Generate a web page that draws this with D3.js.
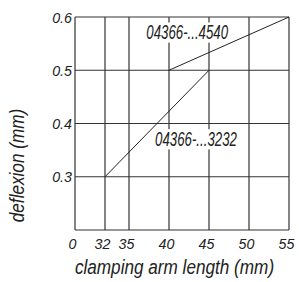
<!DOCTYPE html>
<html lang="en">
<head>
  <meta charset="UTF-8">
  <title>Deflexion</title>
  <script src="https://d3js.org/d3.v7.min.js"></script>
  <style>
    * { margin: 0; padding: 0; }
    body { background-color: #fff; }
    svg text {
      font-family: "Liberation Sans", Arial, sans-serif;
      font-style: italic;
      fill: #222;
    }
  </style>
</head>
<body>
  <svg id="chart" width="299" height="282"></svg>

  <script>
    // data
    var xTicks = [0, 32, 35, 40, 45, 50, 55];
    var yTicks = [0.3, 0.4, 0.5, 0.6];
    var series = ['04366-...3232', '04366-...4540'];
    var seriesX = [[32, 45], [40, 55]];
    var seriesY = [[0.3, 0.5], [0.5, 0.6]];

    var m = {left: 75, top: 17, right: 10, bottom: 52},
      W = 299, H = 282;
    var svg = d3.select('#chart');

    // x axis is broken between 0 and 32
    var x = d3.scaleLinear().domain([0, 32, 55]).range([m.left, m.left + 30, W - m.right]);
    var y = d3.scaleLinear().domain([0.2, 0.6]).range([H - m.bottom, m.top]);

    var grid = svg.append('g').attr('stroke', '#333').attr('stroke-width', 1.2);
    grid.selectAll('.v').data(xTicks).enter().append('line')
      .attr('x1', function(d) { return x(d); }).attr('x2', function(d) { return x(d); })
      .attr('y1', y(0.2)).attr('y2', y(0.6));
    grid.selectAll('.h').data([0.2].concat(yTicks)).enter().append('line')
      .attr('x1', x(0)).attr('x2', x(55))
      .attr('y1', function(d) { return y(d); }).attr('y2', function(d) { return y(d); });

    // series lines
    var line = d3.line();
    series.forEach(function(name, i) {
      var pts = seriesX[i].map(function(v, j) { return [x(v), y(seriesY[i][j])]; });
      svg.append('path').attr('d', line(pts))
        .attr('fill', 'none').attr('stroke', '#222').attr('stroke-width', 1);
    });

    // condensed look: squeeze text horizontally
    function label(px, py, txt, size, sx, anchor) {
      var g = svg.append('g')
        .attr('transform', 'translate(' + px + ',' + py + ') scale(' + sx + ',1)');
      var t = g.append('text')
        .attr('text-anchor', anchor || 'middle')
        .attr('font-size', size)
        .text(txt);
      return g;
    }
    // label sitting on a white box that hides the grid behind it
    function boxed(px, py, txt, size, sx) {
      var g = label(px, py, txt, size, sx);
      var b = g.select('text').node().getBBox();
      g.insert('rect', 'text')
        .attr('x', b.x).attr('y', b.y + 1)
        .attr('width', b.width).attr('height', b.height - 2)
        .attr('fill', '#fff');
    }

    // series labels
    boxed(196, 145.7, series[0], 19.5, 0.68);
    boxed(187.2, 39, series[1], 19.5, 0.68);

    // tick labels
    xTicks.forEach(function(d) { label(x(d) - 2.5, y(0.2) + 19, d, 15.5, 0.92); });
    yTicks.forEach(function(d) { label(m.left - 3, y(d) + 5.7, d3.format('.1f')(d), 15.5, 0.92, 'end'); });

    // axis titles
    label(174.5, 274, 'clamping arm length (mm)', 19.5, 0.88);
    svg.append('text').attr('transform', 'translate(24,165.5) rotate(-90) scale(0.88,1)')
      .attr('text-anchor', 'middle').attr('font-size', 19.5)
      .text('deflexion (mm)');
  </script>
</body>
</html>
